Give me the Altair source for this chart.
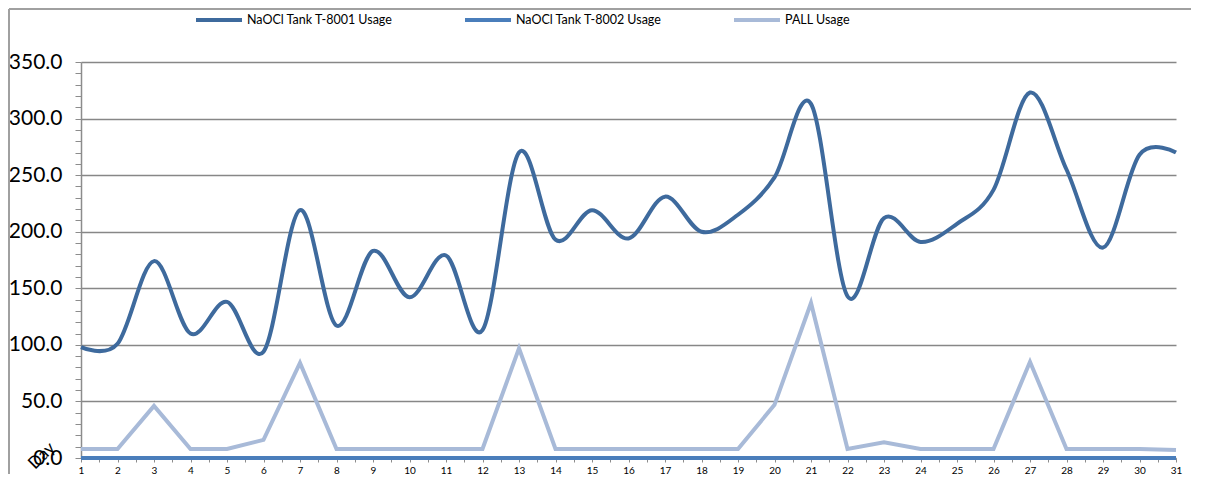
import altair as alt
import pandas as pd

days = list(range(1, 32))
t8001 = [98, 101, 174, 110, 138, 94, 219, 117, 183, 142, 179, 113, 270, 193, 219, 194,
         231, 200, 215, 248, 313, 143, 212, 191, 207, 237, 323, 255, 186, 268, 270]
t8002 = [0] * 31
pall = [8, 8, 46, 8, 8, 16, 84, 8, 8, 8, 8, 8, 97, 8, 8, 8,
        8, 8, 8, 47, 137, 8, 14, 8, 8, 8, 85, 8, 8, 8, 7]

series = ["NaOCl Tank T-8001 Usage", "NaOCl Tank T-8002 Usage", "PALL Usage"]
colors = ["#3E6A9D", "#4A7EBB", "#A8BAD8"]
x_title = "Day"

smooth_df = pd.DataFrame({"Day": days, "Usage": t8001, "Series": series[0]})
linear_df = pd.concat([
    pd.DataFrame({"Day": days, "Usage": pall, "Series": series[2]}),
    pd.DataFrame({"Day": days, "Usage": t8002, "Series": series[1]}),
])

x_vals = [v / 2 for v in range(2, 63)]
x_axis = alt.Axis(
    values=x_vals,
    labelExpr="datum.value % 1 === 0 ? format(datum.value, 'd') : ''",
    grid=False, tickSize=4, tickColor="#8C8C8C", domainColor="#8C8C8C",
    labelFontSize=10, labelPadding=3, labelColor="#000000", labelFlush=False,
    title=None,
)
y_axis = alt.Axis(
    values=list(range(0, 351, 10)),
    labelExpr="datum.value % 50 === 0 ? format(datum.value, '.1f') : ''",
    gridOpacity={"condition": {"test": "datum.value % 50 === 0", "value": 1}, "value": 0},
    gridColor="#878787", gridWidth=1.5,
    tickSize=6, tickColor="#8C8C8C", domainColor="#8C8C8C", domainWidth=1.5,
    labelFontSize=21, labelPadding=13, labelColor="#000000", title=None,
)
xenc = alt.X("Day:Q", scale=alt.Scale(domain=[1, 31], nice=False), axis=x_axis)
yenc = alt.Y("Usage:Q", scale=alt.Scale(domain=[0, 350], nice=False), axis=y_axis)
cenc = alt.Color(
    "Series:N",
    scale=alt.Scale(domain=series, range=colors),
    sort=series,
    legend=alt.Legend(
        title=None, orient="none", legendX=113, legendY=-67, direction="horizontal",
        columns=3, gridAlign="all", columnPadding=64, symbolType="stroke",
        symbolSize=2116, symbolStrokeWidth=4, labelFontSize=12.5, labelOffset=3,
        labelColor="#000000", labelLimit=300,
    ),
)

smooth = alt.Chart(smooth_df).mark_line(interpolate="cardinal", strokeWidth=4).encode(
    x=xenc, y=yenc, color=cenc
)
linear = alt.Chart(linear_df).mark_line(strokeWidth=4).encode(
    x=xenc, y=yenc, color=cenc, detail="Series:N"
)

day_label = alt.Chart(alt.Data(values=[{"t": x_title}])).mark_text(
    angle=315, fontSize=17, color="#000000", align="center", baseline="middle"
).encode(text="t:N", x=alt.value(-39), y=alt.value(394))

border = alt.Chart(alt.Data(values=[{}])).mark_rule(color="#A0A0A0", strokeWidth=2)
top_border = border.encode(x=alt.value(-72), x2=alt.value(1110), y=alt.value(-53))
left_border = border.encode(x=alt.value(-72), y=alt.value(-53), y2=alt.value(412))

chart = alt.layer(top_border, left_border, linear, smooth, day_label).properties(
    width=1095, height=396,
    autosize=alt.AutoSizeParams(type="none"),
    padding={"left": 73, "top": 54, "right": 15, "bottom": 16},
).configure(font="Lato").configure_view(stroke=None)

chart.save("out.html", embed_options={"renderer": "svg", "actions": False})
